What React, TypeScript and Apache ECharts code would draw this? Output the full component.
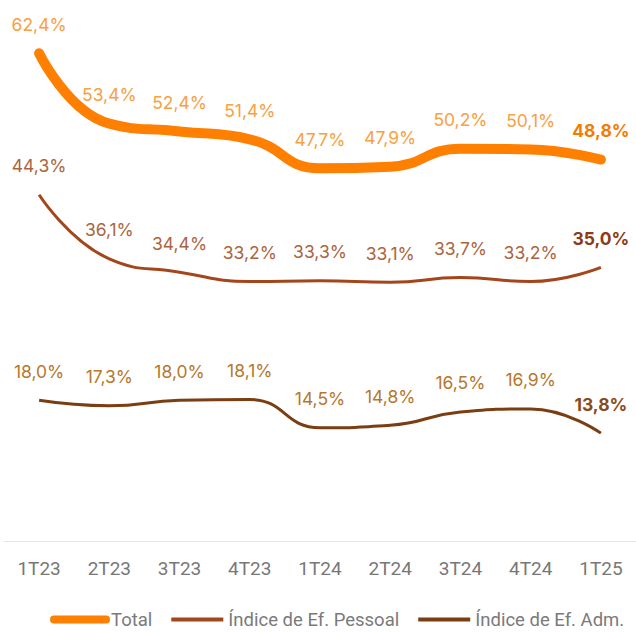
import React, { useEffect, useRef } from "react";
import * as echarts from "echarts";

const categories = ["1T23", "2T23", "3T23", "4T23", "1T24", "2T24", "3T24", "4T24", "1T25"];
const totalValues = [62.4, 53.4, 52.4, 51.4, 47.7, 47.9, 50.2, 50.1, 48.8];
const pessoalValues = [44.3, 36.1, 34.4, 33.2, 33.3, 33.1, 33.7, 33.2, 35.0];
const admValues = [18.0, 17.3, 18.0, 18.1, 14.5, 14.8, 16.5, 16.9, 13.8];
const seriesNames = ["Total", "Índice de Ef. Pessoal", "Índice de Ef. Adm."];

const FONT = "Roboto";
const LABEL_FONT = "Inter";

function fmt(v: number) {
  return v.toFixed(1).replace(".", ",") + "%";
}

function makeData(values: number[], lastColor: string) {
  return values.map((v, i) =>
    i === values.length - 1
      ? { value: v, label: { fontWeight: "bold", color: lastColor } }
      : { value: v }
  );
}

export default function App() {
  const ref = useRef<HTMLDivElement>(null);
  useEffect(() => {
    if (!ref.current) return;
    const chart = echarts.init(ref.current, undefined, { renderer: "svg" });
    const labelBase = {
      show: true,
      position: "top",
      distance: 20,
      fontFamily: LABEL_FONT,
      fontSize: 17.5,
      formatter: (p: any) => fmt(p.value),
    };
    chart.setOption({
      animation: false,
      backgroundColor: "#ffffff",
      grid: { left: 4, right: -5, top: 33, bottom: 91 },
      xAxis: {
        type: "category",
        data: categories,
        boundaryGap: true,
        axisLine: { show: true, lineStyle: { color: "#e6e6e6", width: 1 } },
        axisTick: { show: false },
        axisLabel: { color: "#777777", fontFamily: FONT, fontSize: 19, margin: 18 },
      },
      yAxis: {
        type: "value",
        min: 0,
        max: 65,
        show: false,
        splitLine: { show: false },
      },
      legend: {
        left: 45,
        top: 605,
        itemWidth: 52,
        itemHeight: 8,
        itemGap: 17,
        textStyle: { color: "#7a7a7a", fontFamily: FONT, fontSize: 18.5 },
        itemStyle: { color: "transparent", borderWidth: 0, opacity: 0 },
        data: [
          { name: seriesNames[0], lineStyle: { width: 8 } },
          { name: seriesNames[1], lineStyle: { width: 4 } },
          { name: seriesNames[2], lineStyle: { width: 4 } },
        ],
      },
      series: [
        {
          name: seriesNames[0],
          type: "line",
          data: makeData(totalValues, "#F57C00"),
          smooth: 0.5,
          symbol: "circle",
          symbolSize: 0.1,
          showSymbol: true,
          lineStyle: { color: "#FF7F00", width: 10, cap: "round" },
          itemStyle: { color: "#FF7F00" },
          label: { ...labelBase, color: "#F9A043" },
        },
        {
          name: seriesNames[1],
          type: "line",
          data: makeData(pessoalValues, "#8E3A16"),
          smooth: 0.5,
          symbol: "circle",
          symbolSize: 0.1,
          showSymbol: true,
          lineStyle: { color: "#A4461C", width: 3 },
          itemStyle: { color: "#A4461C" },
          label: { ...labelBase, color: "#AC6540" },
        },
        {
          name: seriesNames[2],
          type: "line",
          data: makeData(admValues, "#8A4A1A"),
          smooth: 0.5,
          symbol: "circle",
          symbolSize: 0.1,
          showSymbol: true,
          lineStyle: { color: "#7A3E12", width: 3 },
          itemStyle: { color: "#7A3E12" },
          label: { ...labelBase, color: "#B5782E" },
        },
      ],
    });
    return () => chart.dispose();
  }, []);
  return (
    <div
      ref={ref}
      style={{ position: "fixed", left: 0, top: 0, width: 636, height: 632, background: "#fff" }}
    />
  );
}
